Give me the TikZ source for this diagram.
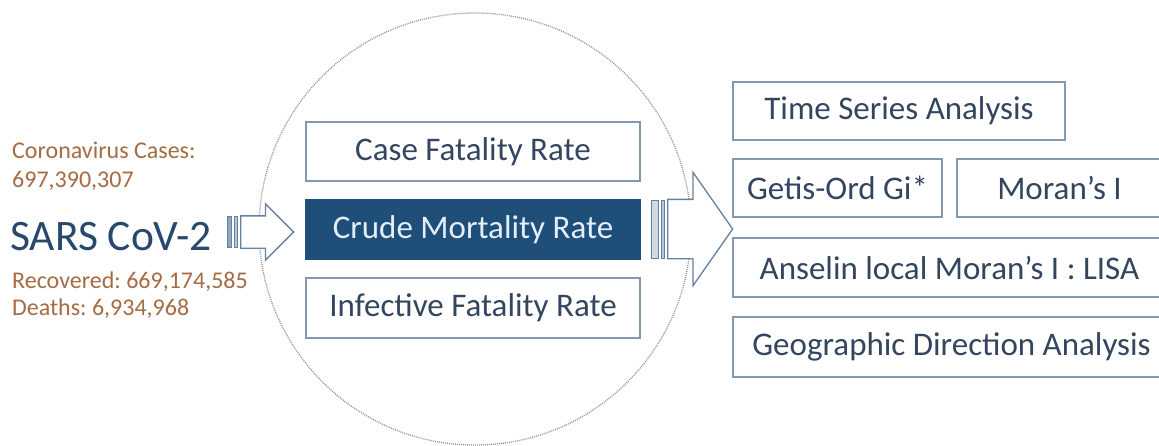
\documentclass[tikz,border=0pt]{standalone}
\usepackage{fontspec}
\setmainfont{Carlito}
\usetikzlibrary{shapes.arrows,positioning}
\definecolor{boxline}{RGB}{132,152,178}
\definecolor{boxtext}{RGB}{52,70,95}
\definecolor{crudefill}{RGB}{31,78,121}
\definecolor{crudetext}{RGB}{226,238,250}
\definecolor{countbrown}{RGB}{165,108,68}
\definecolor{virusblue}{RGB}{40,72,108}
\definecolor{ringgray}{RGB}{160,136,122}
\definecolor{arrowline}{RGB}{100,128,162}
\tikzset{
  rate/.style={draw=boxline, line width=1.5pt, fill=white, text=boxtext,
    font=\fontsize{33}{38}\selectfont, inner sep=0pt},
  count/.style={text=countbrown, font=\fontsize{24}{29}\selectfont, inner sep=0pt, anchor=base west},
  ring/.style={circle, draw=ringgray, line width=1.3pt, dash pattern=on 0.9pt off 1.1pt, inner sep=0pt},
  fatarrow/.style={single arrow, draw=arrowline, line width=1.3pt, fill=white,
    inner xsep=0pt, anchor=tail},
  stripe/.style={draw=arrowline, fill=arrowline!45, line width=0.8pt, inner sep=0pt}
}
\frenchspacing

\begin{document}
\begin{tikzpicture}[x=1pt,y=-1pt]
\clip (0,0) rectangle (1159,445);
\fill[white] (0,0) rectangle (1159,445);

\node[ring, minimum size=432] (lens) at (475,229) {};

\node[count] (cases) at (12,158) {Coronavirus Cases:};
\node[count] (casesnum) at (12,187) {697,390,307};
\node[text=virusblue, font=\fontsize{43.5}{50}\selectfont, inner sep=0pt, anchor=base west] (virus) at (10,250) {SARS CoV-2};
\node[count] (recovered) at (12,288) {Recovered: 669,174,585};
\node[count] (deaths) at (12,315) {Deaths: 6,934,968};

\node[fatarrow, minimum height=53, inner ysep=15.5pt, single arrow head extend=12pt] (inarrow) at (240,232) {};
\node[stripe, minimum width=3, minimum height=31, left=2pt of inarrow.tail] (inbarB) {};
\node[stripe, fill=arrowline!70, minimum width=4, minimum height=31, left=2pt of inbarB] (inbarA) {};

\node[rate, minimum width=334, minimum height=59] (cfr) at (473,151.5) {Case Fatality Rate};
\node[rate, fill=crudefill, draw=crudefill, text=crudetext, minimum width=334, minimum height=59] (cmr) at (473,229.5) {Crude Mortality Rate};
\node[rate, minimum width=334, minimum height=60] (ifr) at (473,308) {Infective Fatality Rate};

\node[fatarrow, minimum height=65, inner ysep=29pt, single arrow head extend=27pt, single arrow tip angle=110] (outarrow) at (667,229) {};
\node[stripe, minimum width=3, minimum height=58, left=2pt of outarrow.tail] (outbarB) {};
\node[stripe, fill=arrowline!30, minimum width=7, minimum height=58, left=2pt of outbarB] (outbarA) {};

\node[rate, minimum width=332, minimum height=58] (tsa) at (899,111) {Time Series Analysis};
\node[rate, minimum width=209, minimum height=58] (getis) at (837.5,188) {Getis-Ord Gi*};
\node[rate, minimum width=205, minimum height=58] (moran) at (1059.5,188) {Moran’s I};
\node[rate, minimum width=433, minimum height=59] (lisa) at (949.5,267.5) {Anselin local Moran’s I : LISA};
\node[rate, minimum width=437, minimum height=60] (gda) at (951.5,347) {Geographic Direction Analysis};
\end{tikzpicture}
\end{document}
